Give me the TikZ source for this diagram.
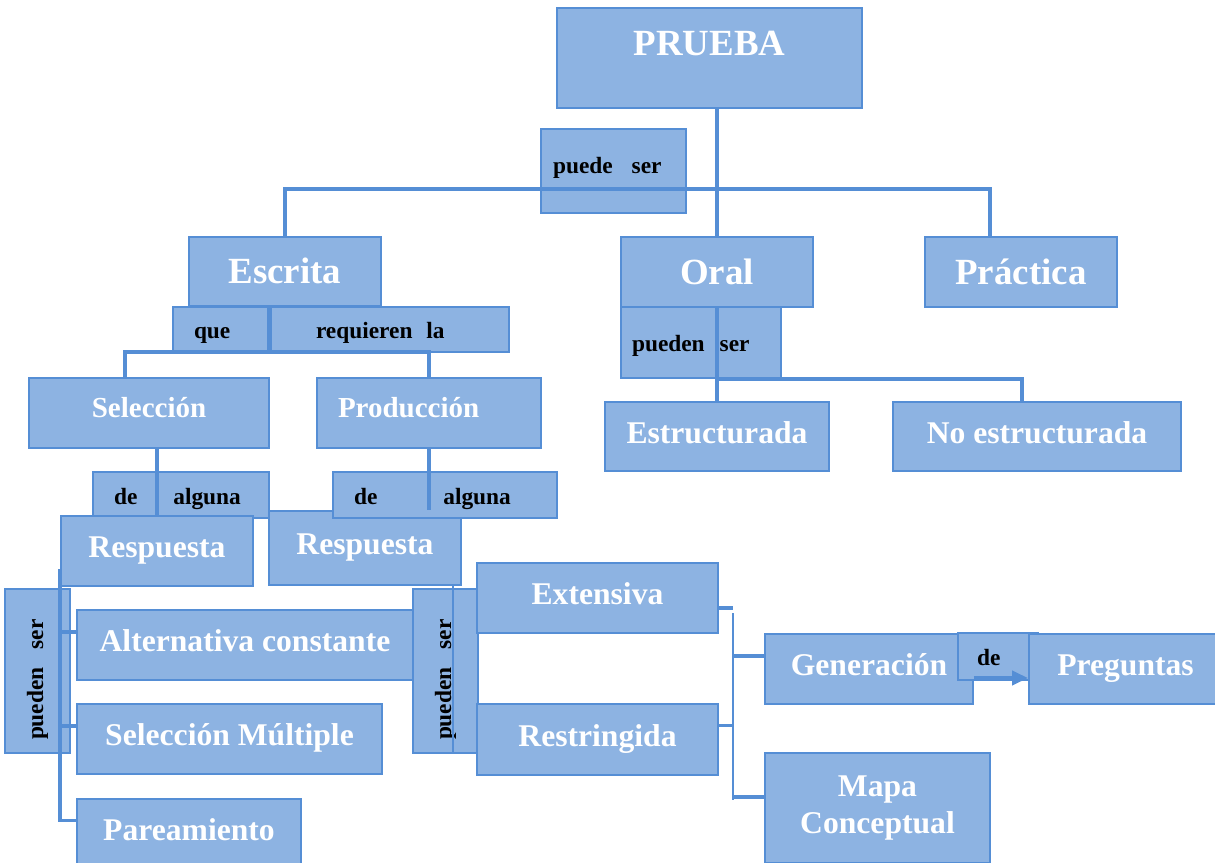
\documentclass[tikz,border=0pt]{standalone}
\usepackage{fontspec}
\setmainfont{Liberation Serif}
\usepackage{graphicx}
\usetikzlibrary{arrows.meta}

\definecolor{boxblue}{HTML}{8DB3E2}
\definecolor{edgeblue}{HTML}{558ED5}

\tikzstyle{box}=[rectangle, draw=edgeblue, fill=boxblue, line width=1.1pt,
                 inner sep=0pt, text=white]
\tikzstyle{big}=[box, font=\bfseries\fontsize{21}{25}\selectfont,
                 text height=0.49cm, text depth=0cm]
\tikzstyle{mid}=[box, font=\bfseries\fontsize{18}{21.6}\selectfont,
                 text height=0.42cm, text depth=0.16cm]
\tikzstyle{sub}=[box, font=\bfseries\fontsize{16.5}{20}\selectfont,
                 text height=0.385cm, text depth=0.225cm]
\tikzstyle{tag}=[box, text=black, font=\bfseries\fontsize{13.3}{16}\selectfont,
                 text height=0.36cm, text depth=0cm, align=left]
\tikzstyle{vtag}=[box, text=black, font=\bfseries\fontsize{13.3}{16}\selectfont]
\tikzstyle{link}=[draw=edgeblue, line width=2.2pt]
\tikzstyle{thinlink}=[draw=edgeblue, line width=1pt]

\begin{document}
\begin{tikzpicture}[x=0.02cm, y=-0.02cm]
\useasboundingbox (0,0) rectangle (1215,863);
%%%%%%%%%%%%%%%%%%%%%%%%%%%%%%
% nodes

% top
\node (prueba) at (709.5, 58) [big, minimum width=6.1cm, minimum height=2cm, text depth=0.61cm] {PRUEBA};
\node (puede) at (613.5, 171) [tag, text width=2.9cm, minimum height=1.68cm, text height=0.08cm] {\hspace*{0.24cm}puede\hspace{0.38cm}ser};

\node (escrita) at (285, 271.5) [big, minimum width=3.84cm, minimum height=1.38cm] {Escrita};
\node (oral) at (717, 272) [big, minimum width=3.84cm, minimum height=1.4cm] {Oral};
\node (practica) at (1021, 272) [big, minimum width=3.84cm, minimum height=1.4cm] {Práctica};

% escrita
\node (que) at (220.5, 329.5) [tag, text width=1.9cm, minimum height=0.9cm] {\hspace*{0.42cm}que};
\node (requieren) at (390, 329.5) [tag, text width=4.76cm, minimum height=0.9cm] {\hspace*{0.9cm}requieren\hspace{0.28cm}la};

\node (seleccion) at (149, 413) [sub, minimum width=4.8cm, minimum height=1.4cm] {Selección};
\node (produccion) at (429, 413) [sub, text width=4.48cm, align=left, minimum height=1.4cm] {\hspace*{0.42cm}Producción};

\node (dealg_l) at (181, 495) [tag, text width=3.52cm, minimum height=0.92cm] {\hspace*{0.42cm}de\hspace{0.72cm}alguna};
\node (resp_l) at (157, 551) [mid, minimum width=3.84cm, minimum height=1.4cm] {Respuesta};
\node (resp_r) at (365, 548) [mid, minimum width=3.84cm, minimum height=1.48cm] {Respuesta};
\node (dealg_r) at (445, 495) [tag, text width=4.48cm, minimum height=0.92cm] {\hspace*{0.42cm}de\hspace{1.32cm}alguna};

\node (pueden_l) at (37.5, 671) [vtag, minimum width=1.3cm, minimum height=3.28cm] {\rotatebox{90}{\makebox[3.28cm][l]{\hspace*{0.26cm}pueden\hspace{0.36cm}ser}}};
\node (alt) at (245, 645) [mid, minimum width=6.72cm, minimum height=1.4cm] {Alternativa constante};
\node (selm) at (229.5, 739) [mid, minimum width=6.1cm, minimum height=1.4cm] {Selección Múltiple};
\node (parea) at (189, 833.5) [mid, minimum width=4.48cm, minimum height=1.38cm] {Pareamiento};

\node (pueden_r) at (445.5, 671) [vtag, minimum width=1.3cm, minimum height=3.28cm] {\rotatebox{90}{\makebox[3.28cm][l]{\hspace*{0.26cm}pueden\hspace{0.36cm}ser}}};
\node (exten) at (597.5, 598) [mid, minimum width=4.82cm, minimum height=1.4cm] {Extensiva};
\node (restr) at (597.5, 739.5) [mid, minimum width=4.82cm, minimum height=1.42cm] {Restringida};

\node (gener) at (869, 669) [mid, minimum width=4.16cm, minimum height=1.4cm] {Generación};
\node (de_g) at (998, 656.5) [tag, text width=1.6cm, minimum height=0.94cm] {\hspace*{0.38cm}de};
\node (preg) at (1125.5, 669) [mid, minimum width=3.86cm, minimum height=1.4cm] {Preguntas};
\node (mapa) at (877.5, 808) [box, font=\bfseries\fontsize{18}{21.6}\selectfont, align=center, minimum width=4.5cm, minimum height=2.2cm] {Mapa\\Conceptual};

% oral
\node (pueden_o) at (701, 342.5) [tag, text width=3.2cm, minimum height=1.42cm] {\hspace*{0.22cm}pueden\hspace{0.3cm}ser};
\node (estr) at (717, 436.5) [mid, minimum width=4.48cm, minimum height=1.38cm] {Estructurada};
\node (noestr) at (1037, 436.5) [mid, minimum width=5.76cm, minimum height=1.38cm] {No estructurada};

%%%%%%%%%%%%%%%%%%%%%%%%%%%%%%
% links

\coordinate (split) at (717, 189);
\coordinate (esplit) at (269, 352);
\coordinate (vtop) at (733, 613);
\coordinate (vbot) at (733, 800);

% top
\draw [link] (oral.north |- prueba.south) -- (oral.north);
\draw [link] (escrita.north) |- (split) -| ([xshift=-0.62cm]practica.north);

% escrita
\draw [link] ([xshift=-0.32cm]escrita.south) -- (esplit);
\draw [link] ([xshift=-0.48cm]seleccion.north) |- (esplit) -| (produccion.north);
\draw [link] (seleccion.south -| resp_l.north) -- (resp_l.north);
\draw [link] (produccion.south) -- (produccion.south |- resp_r.north);

\draw [link] ([yshift=-0.36cm]resp_l.west) |- ([yshift=0.26cm]parea.west);
\draw [link] ([yshift=0.26cm]alt.west) -- ([yshift=0.26cm]alt.west -| resp_l.west);
\draw [link] ([yshift=0.26cm]selm.west) -- ([yshift=0.26cm]selm.west -| resp_l.west);

\draw [thinlink] ([xshift=0.15cm]pueden_r.south) -- ([xshift=0.15cm]pueden_r.south |- resp_r.south);

\draw [thinlink] (vtop) -- (vbot);
\draw [link] ([yshift=-0.2cm]exten.east) -- ([yshift=-0.2cm]exten.east -| vtop);
\draw [link] ([yshift=0.28cm]restr.east) -- ([yshift=0.28cm]restr.east -| vtop);
\draw [link] ([yshift=0.26cm]gener.west) -- ([yshift=0.26cm]gener.west -| vtop);
\draw [link] ([yshift=0.22cm]mapa.west) -- ([yshift=0.22cm]mapa.west -| vtop);

\draw [link, -{Triangle[length=0.32cm, width=0.28cm]}] ([yshift=-0.18cm]gener.east) -- ([yshift=-0.18cm]preg.west);

% oral
\draw [link] (oral.south) -- (estr.north);
\draw [link] (oral.south |- pueden_o.south) -| ([xshift=-0.3cm]noestr.north);

\end{tikzpicture}
\end{document}
